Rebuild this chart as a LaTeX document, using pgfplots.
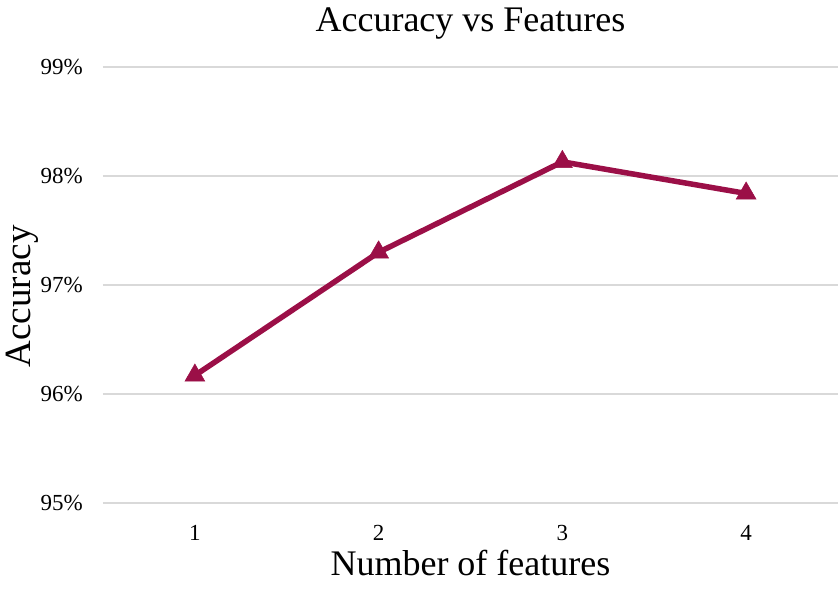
\documentclass[border=0pt]{standalone}
\usepackage{fontspec}
\setmainfont{Liberation Serif}
\usepackage{pgfplots}
\pgfplotsset{compat=1.18}
\definecolor{acc}{HTML}{9B0F47}
\definecolor{gridc}{HTML}{D9D9D9}
\begin{document}
\begin{tikzpicture}[x=1pt,y=1pt]
\path[use as bounding box] (-103,-87) rectangle (736,503);
\begin{axis}[
  at={(0,0)}, anchor=south west,
  scale only axis, width=735pt, height=436pt,
  xmin=0.5, xmax=4.5, ymin=95, ymax=99,
  xtick={1,2,3,4}, ytick={95,96,97,98,99},
  yticklabel={\pgfmathprintnumber{\tick}\%},
  /pgf/number format/assume math mode=true,
  axis line style={draw=none},
  tick style={draw=none},
  major tick length=0pt,
  ymajorgrids, grid style={line width=1.8pt, color=gridc},
  clip=false,
  ticklabel style={font=\fontsize{23}{26}\selectfont},
  yticklabel style={anchor=east, inner sep=0pt, xshift=-20pt},
  xticklabel style={anchor=base, inner sep=0pt, yshift=-37pt},
  title={Accuracy vs Features},
  title style={font=\fontsize{36}{40}\selectfont, at={(axis description cs:0.5,1)}, anchor=base, inner sep=0pt, yshift=30pt},
  xlabel={Number of features},
  xlabel style={font=\fontsize{36}{40}\selectfont, at={(axis description cs:0.5,0)}, anchor=base, inner sep=0pt, yshift=-72pt},
  ylabel={Accuracy},
  ylabel style={font=\fontsize{37}{40}\selectfont, at={(axis description cs:-0.098,0.474)}, anchor=base, inner sep=0pt},
]
\addplot[color=acc, line width=5.5pt, mark=triangle*, mark size=11.5pt, mark options={solid, line width=0.5pt, fill=acc}]
  coordinates {(1,96.17) (2,97.30) (3,98.13) (4,97.84)};
\end{axis}
\end{tikzpicture}
\end{document}
